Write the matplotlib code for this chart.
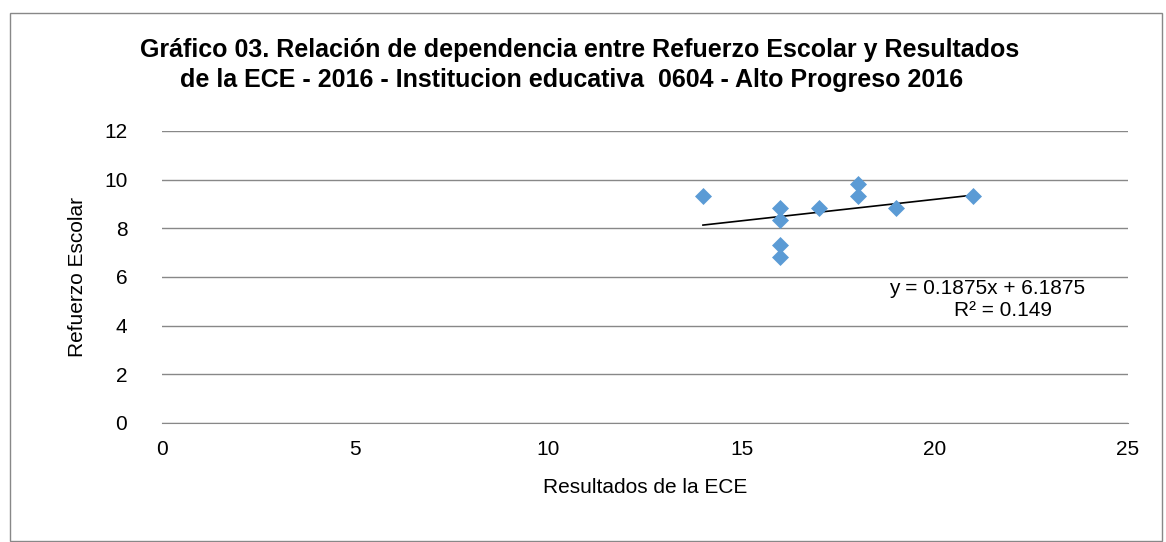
import matplotlib.pyplot as plt
import numpy as np
from matplotlib.patches import Rectangle

ece = [14, 16, 16, 16, 16, 17, 18, 18, 19, 21]
refuerzo = [9.33, 8.83, 8.33, 7.33, 6.83, 8.83, 9.83, 9.33, 8.83, 9.33]
x_ticks = [0, 5, 10, 15, 20, 25]
y_ticks = [0, 2, 4, 6, 8, 10, 12]

plt.rcParams['font.family'] = ['Liberation Sans Narrow', 'Liberation Sans', 'DejaVu Sans']

W, H = 1166, 542
fig = plt.figure(figsize=(W/100, H/100), dpi=100)
ax = fig.add_axes([162/W, 1-423/H, (1128-162)/W, (423-131)/H])

fig.patches.append(Rectangle((10/W, 0.002), 1152/W, 1-14/H, transform=fig.transFigure,
                             fill=False, edgecolor="#888888", lw=1))

ax.scatter(ece, refuerzo, marker="D", s=75, color="#5B9BD5", zorder=3, linewidths=0)

m, b = np.polyfit(ece, refuerzo, 1)
xl = np.array([min(ece), max(ece)])
ax.plot(xl, m*xl + b, color="black", lw=1.2, zorder=2)

fig.text(1085/W, 1-288/H, "y = 0.1875x + 6.1875", fontsize=15, ha="right", va="center")
fig.text(1052/W, 1-310/H, "R² = 0.149", fontsize=15, ha="right", va="center")

ax.set_xlim(0, 25)
ax.set_ylim(0, 12)
ax.set_xticks(x_ticks)
ax.set_yticks(y_ticks)
ax.tick_params(length=0, labelsize=15)
ax.tick_params(axis="y", pad=25)
ax.tick_params(axis="x", pad=12)
ax.yaxis.grid(True, color="#888888", lw=1)
ax.set_axisbelow(True)
for s in ["top", "right", "left"]:
    ax.spines[s].set_visible(False)
ax.spines["bottom"].set_color("#888888")

ax.set_xlabel("Resultados de la ECE", fontsize=15, labelpad=14)
ax.set_ylabel("Refuerzo Escolar", fontsize=15, labelpad=12)

fig.text(580/W, 1-50/H, "Gráfico 03. Relación de dependencia entre Refuerzo Escolar y Resultados",
         ha="center", va="center", fontsize=18, fontweight="bold")
fig.text(572/W, 1-80/H, "de la ECE - 2016 - Institucion educativa  0604 - Alto Progreso 2016",
         ha="center", va="center", fontsize=18, fontweight="bold")

fig.savefig("out.png", dpi=100)
